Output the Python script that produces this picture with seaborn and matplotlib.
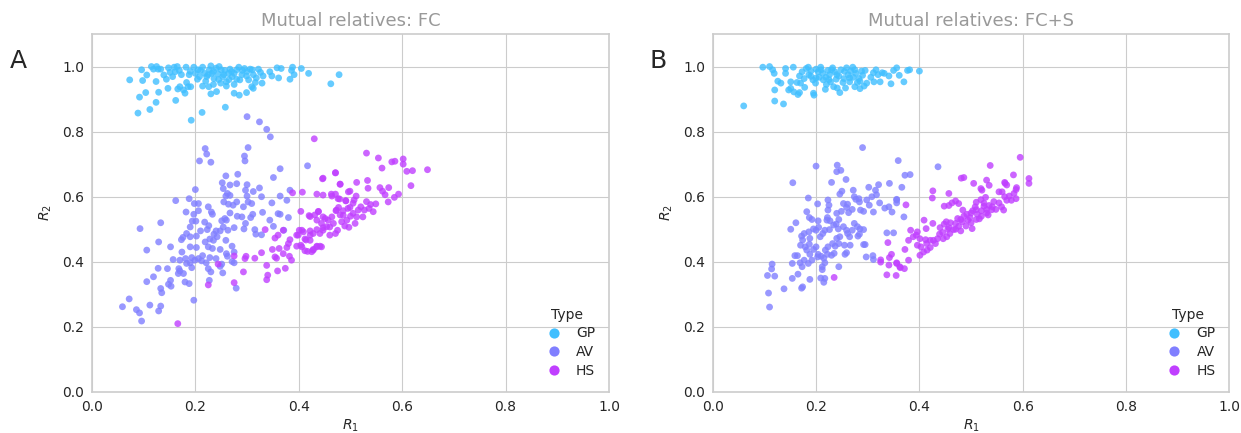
import matplotlib
matplotlib.use("Agg")
import matplotlib.pyplot as plt
import seaborn as sns
import pandas as pd

types = ["GP", "AV", "HS"]
titles = ["Mutual relatives: FC", "Mutual relatives: FC+S"]
panel_letters = ["A", "B"]
xticks = [0.0, 0.2, 0.4, 0.6, 0.8, 1.0]
yticks = [0.0, 0.2, 0.4, 0.6, 0.8, 1.0]

# ---------------- Panel A (FC) ----------------
A_GP = [(0.073,0.959),(0.096,0.990),(0.098,0.957),(0.106,0.974),(0.115,1.000),(0.119,0.992),(0.125,1.000),(0.128,0.992),
(0.133,0.992),(0.124,0.954),(0.104,0.920),(0.092,0.906),(0.129,0.921),(0.124,0.890),(0.089,0.857),(0.112,0.868),
(0.147,0.933),(0.139,0.974),(0.144,0.961),(0.148,0.996),(0.151,0.982),(0.156,0.969),(0.159,0.998),(0.161,0.984),
(0.165,1.000),(0.169,0.988),(0.173,0.975),(0.170,0.938),(0.166,0.931),(0.162,0.896),(0.177,0.928),(0.180,0.918),
(0.183,0.951),(0.186,0.938),(0.182,0.998),(0.188,0.975),(0.191,0.938),(0.197,0.998),(0.200,0.979),(0.204,0.961),
(0.208,0.969),(0.210,0.988),(0.214,0.998),(0.218,0.979),(0.222,0.969),(0.227,0.990),(0.230,1.002),(0.232,0.979),
(0.236,0.963),(0.240,0.995),(0.244,0.977),(0.246,1.000),(0.249,0.949),(0.253,0.969),(0.257,0.988),(0.260,0.953),
(0.264,0.979),(0.267,0.992),(0.271,0.969),(0.275,0.979),(0.280,0.961),(0.284,0.998),(0.286,0.959),(0.291,0.988),
(0.295,0.994),(0.299,0.971),(0.303,0.959),(0.306,0.992),(0.309,0.938),(0.312,0.975),(0.316,0.951),(0.318,0.965),
(0.322,0.992),(0.326,0.982),(0.329,0.949),(0.331,0.971),(0.344,0.984),(0.348,0.971),(0.361,0.965),(0.358,0.996),
(0.366,0.994),(0.383,0.961),(0.386,0.988),(0.391,0.975),(0.388,0.998),(0.405,0.994),(0.419,0.979),(0.462,0.947),
(0.478,0.975),(0.213,0.859),(0.192,0.835),(0.258,0.875),(0.275,0.918),(0.285,0.912),(0.299,0.920),(0.312,0.933),
(0.230,0.916),(0.226,0.938),(0.241,0.923),(0.214,0.940),
(0.190,0.985),(0.205,0.990),(0.225,0.975),(0.235,0.985),(0.250,0.990),(0.255,0.975),(0.270,0.985),(0.280,0.990),
(0.290,0.975),(0.300,0.985),(0.265,0.960),(0.245,0.960),(0.220,0.955),(0.310,0.990),(0.275,0.945),(0.260,0.940),
(0.235,0.945)]

A_AV = [(0.300,0.846),(0.324,0.830),(0.338,0.807),(0.345,0.784),
(0.219,0.748),(0.222,0.731),(0.302,0.751),(0.295,0.725),(0.296,0.710),(0.208,0.710),(0.230,0.706),(0.259,0.664),
(0.282,0.669),(0.252,0.643),(0.267,0.636),(0.280,0.640),(0.254,0.625),(0.300,0.637),(0.297,0.620),(0.312,0.616),
(0.324,0.627),(0.351,0.659),(0.364,0.686),(0.417,0.695),(0.200,0.622),(0.162,0.588),(0.188,0.594),(0.198,0.579),
(0.206,0.579),(0.206,0.557),(0.182,0.553),(0.225,0.569),(0.231,0.553),(0.233,0.546),(0.259,0.602),(0.262,0.610),
(0.267,0.604),(0.255,0.584),(0.264,0.577),(0.280,0.584),(0.273,0.574),(0.293,0.569),(0.300,0.602),(0.302,0.584),
(0.309,0.579),(0.328,0.600),(0.348,0.581),(0.364,0.602),(0.377,0.589),(0.383,0.620),(0.330,0.552),(0.311,0.546),
(0.307,0.536),(0.290,0.538),(0.281,0.540),(0.267,0.550),(0.257,0.533),(0.251,0.526),(0.260,0.528),(0.254,0.507),
(0.248,0.495),(0.263,0.497),(0.275,0.505),(0.294,0.501),(0.297,0.518),(0.315,0.499),(0.328,0.483),(0.317,0.485),
(0.344,0.528),(0.351,0.509),(0.360,0.548),(0.364,0.546),(0.371,0.497),(0.380,0.536),(0.194,0.525),(0.201,0.525),
(0.197,0.546),(0.190,0.507),(0.183,0.487),(0.176,0.475),(0.173,0.468),(0.190,0.477),(0.202,0.479),(0.210,0.495),
(0.218,0.522),(0.223,0.499),(0.226,0.511),(0.236,0.485),(0.240,0.495),(0.242,0.477),(0.228,0.470),(0.219,0.461),
(0.202,0.444),(0.225,0.446),(0.233,0.441),(0.248,0.438),(0.260,0.425),(0.271,0.448),(0.275,0.430),(0.259,0.466),
(0.235,0.466),(0.190,0.446),(0.174,0.430),(0.157,0.407),(0.181,0.410),(0.183,0.395),(0.193,0.413),(0.199,0.405),
(0.206,0.410),(0.212,0.403),(0.214,0.419),(0.221,0.397),(0.228,0.413),(0.240,0.410),(0.251,0.393),(0.262,0.417),
(0.271,0.401),(0.275,0.397),(0.193,0.382),(0.190,0.397),(0.177,0.364),(0.168,0.379),(0.152,0.446),(0.129,0.461),
(0.106,0.436),(0.133,0.520),(0.093,0.502),(0.153,0.325),(0.170,0.372),(0.146,0.379),(0.128,0.380),(0.119,0.354),
(0.106,0.339),(0.133,0.318),(0.135,0.305),(0.148,0.331),(0.152,0.343),(0.180,0.338),(0.188,0.333),(0.225,0.379),
(0.230,0.369),(0.248,0.386),(0.253,0.366),(0.227,0.343),(0.279,0.319),(0.197,0.282),(0.072,0.286),(0.059,0.262),
(0.086,0.253),(0.092,0.243),(0.096,0.218),(0.112,0.267),(0.133,0.264),(0.129,0.249),(0.170,0.405),(0.167,0.364)]

A_HS = [(0.430,0.778),
(0.388,0.612),(0.407,0.614),(0.435,0.608),(0.447,0.605),(0.471,0.673),(0.446,0.655),(0.480,0.639),(0.496,0.615),
(0.464,0.602),(0.476,0.594),(0.491,0.587),(0.404,0.555),(0.420,0.542),(0.438,0.555),(0.447,0.538),(0.457,0.528),
(0.473,0.559),(0.486,0.543),(0.495,0.564),(0.460,0.507),(0.447,0.505),(0.435,0.499),(0.422,0.495),(0.409,0.492),
(0.401,0.497),(0.396,0.482),(0.412,0.470),(0.422,0.466),(0.435,0.448),(0.444,0.446),(0.428,0.436),(0.417,0.432),
(0.406,0.446),(0.396,0.448),(0.383,0.468),(0.380,0.456),(0.377,0.444),(0.370,0.497),(0.360,0.482),(0.354,0.473),
(0.349,0.438),(0.362,0.441),(0.354,0.415),(0.357,0.411),(0.370,0.425),(0.382,0.417),(0.386,0.405),(0.374,0.380),
(0.359,0.372),(0.340,0.359),(0.338,0.345),(0.338,0.389),(0.328,0.428),(0.315,0.411),(0.296,0.410),(0.298,0.417),
(0.275,0.418),(0.244,0.393),(0.293,0.369),(0.275,0.336),(0.225,0.329),(0.166,0.210),(0.335,0.499),
(0.531,0.734),(0.554,0.719),(0.561,0.688),(0.580,0.707),(0.586,0.709),(0.602,0.716),(0.602,0.700),(0.609,0.678),
(0.620,0.680),(0.649,0.683),(0.617,0.634),(0.533,0.650),(0.534,0.626),(0.557,0.628),(0.562,0.617),(0.574,0.628),
(0.567,0.606),(0.585,0.598),(0.593,0.608),(0.573,0.584),(0.549,0.578),(0.544,0.554),(0.531,0.585),(0.527,0.559),
(0.536,0.564),(0.539,0.576),(0.512,0.644),(0.499,0.617),(0.511,0.602),(0.507,0.590),(0.520,0.569),(0.515,0.559),
(0.524,0.538),(0.512,0.538),(0.505,0.549),(0.500,0.540),(0.509,0.518),(0.497,0.506),(0.505,0.580),(0.499,0.567),
(0.464,0.538),(0.472,0.557),(0.480,0.544),(0.483,0.523),(0.489,0.510),(0.493,0.528),(0.486,0.557),(0.477,0.567),
(0.467,0.518),(0.475,0.497),(0.460,0.482),(0.471,0.487),
(0.422,0.539),(0.431,0.544),(0.438,0.554),(0.435,0.528),(0.444,0.518),(0.451,0.533),(0.454,0.508),(0.447,0.497),
(0.441,0.487),(0.428,0.487),(0.422,0.482),(0.435,0.446),(0.428,0.438),(0.441,0.448),(0.414,0.467),(0.406,0.497),
(0.399,0.482),(0.404,0.451),(0.425,0.431),(0.412,0.434),
(0.471,0.674),(0.447,0.657),(0.480,0.638),(0.463,0.608),(0.471,0.608),(0.479,0.593),(0.491,0.588)]

# ---------------- Panel B (FC+S) ----------------
B_GP = [(0.060,0.879),(0.097,0.998),(0.110,1.000),(0.119,0.979),(0.116,0.990),(0.120,0.928),(0.120,0.894),(0.137,0.885),
(0.126,0.955),(0.132,0.949),(0.141,0.994),(0.141,0.979),(0.147,0.928),(0.151,0.933),(0.151,0.953),(0.156,0.998),
(0.157,0.922),(0.165,0.914),(0.168,0.920),(0.163,0.951),(0.170,0.949),(0.168,0.971),(0.173,0.984),(0.177,0.963),
(0.178,0.936),(0.181,0.994),(0.185,0.998),(0.186,0.975),(0.190,0.986),(0.194,0.959),(0.195,0.918),(0.196,0.912),
(0.199,0.949),(0.200,0.992),(0.204,0.984),(0.206,0.967),(0.209,0.998),(0.213,0.979),(0.214,0.959),(0.218,0.930),
(0.219,0.967),(0.223,0.988),(0.226,0.975),(0.228,0.953),(0.232,0.996),(0.234,0.938),(0.236,0.984),(0.239,0.961),
(0.241,0.934),(0.244,0.971),(0.246,0.920),(0.248,0.990),(0.252,0.951),(0.254,0.963),(0.257,0.934),(0.259,0.996),
(0.262,0.975),(0.265,0.953),(0.267,0.986),(0.271,0.998),(0.272,0.967),(0.275,0.938),(0.277,0.979),(0.280,0.951),
(0.283,0.963),(0.285,0.932),(0.288,0.986),(0.290,0.973),(0.293,0.940),(0.295,0.988),(0.298,0.949),(0.306,0.967),
(0.311,0.981),(0.312,0.953),(0.316,0.990),(0.320,0.975),(0.324,0.953),(0.328,0.981),(0.332,0.979),(0.345,0.947),
(0.341,0.971),(0.350,0.988),(0.356,0.996),(0.361,0.973),(0.370,0.953),(0.377,0.988),(0.381,0.990),(0.400,0.986),
(0.200,0.965),(0.210,0.990),(0.225,0.960),(0.240,0.975),(0.255,0.985),(0.265,0.965),(0.275,0.990),(0.285,0.955),
(0.220,0.945),(0.190,0.970),(0.230,0.990)]

B_AV = [(0.290,0.751),(0.200,0.694),(0.241,0.697),(0.240,0.677),(0.248,0.681),(0.258,0.653),(0.155,0.643),(0.230,0.644),
(0.185,0.596),(0.203,0.578),(0.223,0.590),(0.225,0.574),(0.223,0.559),(0.222,0.536),(0.221,0.528),(0.227,0.526),
(0.182,0.554),(0.187,0.536),(0.192,0.530),(0.204,0.526),(0.240,0.549),(0.244,0.530),(0.249,0.555),(0.253,0.579),
(0.261,0.577),(0.259,0.567),(0.263,0.551),(0.270,0.561),(0.274,0.600),(0.277,0.592),(0.283,0.594),(0.284,0.584),
(0.272,0.620),(0.250,0.617),(0.246,0.608),(0.286,0.559),(0.292,0.555),(0.298,0.590),(0.302,0.629),(0.303,0.574),
(0.308,0.600),(0.311,0.553),(0.315,0.620),(0.317,0.606),(0.321,0.637),(0.323,0.581),(0.333,0.565),(0.341,0.569),
(0.342,0.641),(0.347,0.553),(0.356,0.592),(0.366,0.629),(0.370,0.538),(0.372,0.666),(0.382,0.668),(0.359,0.711),
(0.436,0.692),(0.356,0.581),(0.161,0.520),(0.151,0.500),(0.172,0.479),(0.177,0.487),(0.186,0.492),(0.188,0.472),
(0.195,0.501),(0.200,0.497),(0.205,0.506),(0.208,0.477),(0.213,0.487),(0.217,0.497),(0.226,0.499),(0.234,0.513),
(0.239,0.516),(0.243,0.501),(0.246,0.477),(0.240,0.472),(0.253,0.508),(0.259,0.497),(0.261,0.487),(0.265,0.477),
(0.270,0.497),(0.274,0.518),(0.280,0.508),(0.285,0.501),(0.281,0.479),(0.284,0.485),(0.292,0.499),(0.295,0.453),
(0.174,0.467),(0.170,0.451),(0.179,0.446),(0.187,0.454),(0.195,0.438),(0.200,0.446),(0.204,0.423),(0.210,0.417),
(0.218,0.436),(0.223,0.446),(0.232,0.456),(0.237,0.448),(0.244,0.456),(0.255,0.451),(0.266,0.451),(0.259,0.428),
(0.222,0.423),(0.215,0.411),(0.230,0.420),(0.235,0.426),(0.182,0.436),(0.188,0.423),(0.203,0.415),(0.159,0.419),
(0.164,0.419),(0.154,0.395),(0.169,0.397),(0.177,0.405),(0.185,0.395),(0.192,0.405),(0.212,0.385),(0.217,0.397),
(0.212,0.376),(0.217,0.349),(0.215,0.337),(0.209,0.350),(0.244,0.385),(0.173,0.385),(0.165,0.362),(0.154,0.349),
(0.172,0.319),(0.174,0.323),(0.188,0.346),(0.138,0.317),(0.120,0.356),(0.106,0.358),(0.114,0.378),(0.115,0.393),
(0.108,0.304),(0.110,0.261),(0.297,0.415),(0.310,0.419),(0.311,0.407),(0.337,0.489),(0.292,0.453),(0.256,0.423),
(0.356,0.590),(0.350,0.489)]

B_HS = [(0.235,0.352),(0.325,0.406),(0.341,0.390),(0.356,0.397),(0.362,0.385),
(0.374,0.575),(0.339,0.459),(0.342,0.413),(0.346,0.423),(0.325,0.399),(0.337,0.360),(0.355,0.358),(0.356,0.395),
(0.363,0.382),(0.371,0.379),(0.372,0.438),(0.379,0.466),(0.379,0.405),(0.383,0.497),(0.388,0.477),(0.394,0.482),
(0.396,0.492),(0.401,0.471),(0.396,0.451),(0.403,0.446),(0.409,0.528),(0.413,0.502),(0.412,0.468),(0.414,0.456),
(0.408,0.430),(0.401,0.420),(0.415,0.436),(0.421,0.466),(0.427,0.466),(0.431,0.456),(0.435,0.471),(0.439,0.485),
(0.440,0.505),(0.448,0.516),(0.452,0.523),(0.457,0.505),(0.459,0.487),(0.453,0.477),(0.446,0.471),(0.466,0.499),
(0.470,0.518),(0.474,0.533),(0.476,0.509),(0.480,0.495),(0.483,0.523),(0.486,0.540),(0.484,0.559),(0.492,0.546),
(0.494,0.528),(0.498,0.536),(0.502,0.502),(0.503,0.557),(0.508,0.569),(0.512,0.546),(0.516,0.532),(0.520,0.557),
(0.525,0.571),(0.530,0.561),(0.533,0.544),(0.535,0.573),(0.541,0.569),(0.544,0.585),(0.548,0.561),(0.554,0.581),
(0.559,0.569),(0.565,0.600),(0.563,0.559),(0.569,0.589),(0.574,0.602),(0.578,0.589),(0.583,0.610),(0.587,0.594),
(0.588,0.628),(0.566,0.641),(0.582,0.667),(0.595,0.721),(0.537,0.696),(0.530,0.651),(0.535,0.635),(0.521,0.620),
(0.505,0.641),(0.486,0.659),(0.481,0.657),(0.457,0.610),(0.426,0.618),(0.425,0.596),(0.448,0.571),(0.457,0.573),
(0.463,0.581),(0.470,0.587),(0.476,0.579),(0.510,0.583),(0.519,0.591),(0.528,0.598),(0.554,0.615),(0.560,0.615),
(0.612,0.656),(0.612,0.641),(0.426,0.518),(0.421,0.444),
(0.460,0.520),(0.470,0.500),(0.490,0.510),(0.500,0.520),(0.510,0.530),(0.520,0.540),(0.530,0.550),(0.540,0.560),
(0.500,0.550),(0.480,0.530),(0.445,0.490),(0.455,0.500),(0.510,0.560),(0.525,0.580),
(0.565,0.644),(0.569,0.636),(0.587,0.622),(0.519,0.625)]

panels = [(A_GP, A_AV, A_HS), (B_GP, B_AV, B_HS)]


def make_frame(groups):
    rows = []
    for t, pts in zip(types, groups):
        for x, y in pts:
            rows.append({"R1": x, "R2": y, "Type": t})
    return pd.DataFrame(rows)


sns.set_style("whitegrid")
plt.rcParams["font.family"] = ["DejaVu Sans"]
palette = sns.color_palette("cool", 3)

fig = plt.figure(figsize=(12.41, 4.33), dpi=100)
ax_pos = [[0.0741, 0.0947, 0.4166, 0.8268], [0.5743, 0.0947, 0.4164, 0.8268]]
letter_x = [0.008, 0.523]

for i in range(2):
    ax = fig.add_axes(ax_pos[i])
    df = make_frame(panels[i])
    sns.scatterplot(data=df, x="R1", y="R2", hue="Type", hue_order=types,
                    palette=palette, s=24, alpha=0.8, linewidth=0, ax=ax)
    ax.set_xlim(0, 1.0)
    ax.set_ylim(0, 1.1)
    ax.set_xticks(xticks)
    ax.set_yticks(yticks)
    ax.tick_params(labelsize=10, colors="#262626", pad=2)
    ax.set_xlabel(r"$R_1$", fontsize=10, labelpad=3)
    ax.set_ylabel(r"$R_2$", fontsize=10, labelpad=6)
    ax.set_title(titles[i], color="#999999", fontsize=13, pad=6)
    for sp in ax.spines.values():
        sp.set_color("#cccccc")
        sp.set_linewidth(1.2)
    leg = ax.legend(title="Type", loc="lower right", frameon=False, fontsize=10,
                    title_fontsize=10, markerscale=1.5, handletextpad=0.6,
                    borderaxespad=0.6, labelspacing=0.35)
    for h in leg.legend_handles:
        h.set_alpha(1.0)
    fig.text(letter_x[i], 0.86, panel_letters[i], fontsize=18, color="#262626", va="center")

fig.savefig("out.png", dpi=100)
